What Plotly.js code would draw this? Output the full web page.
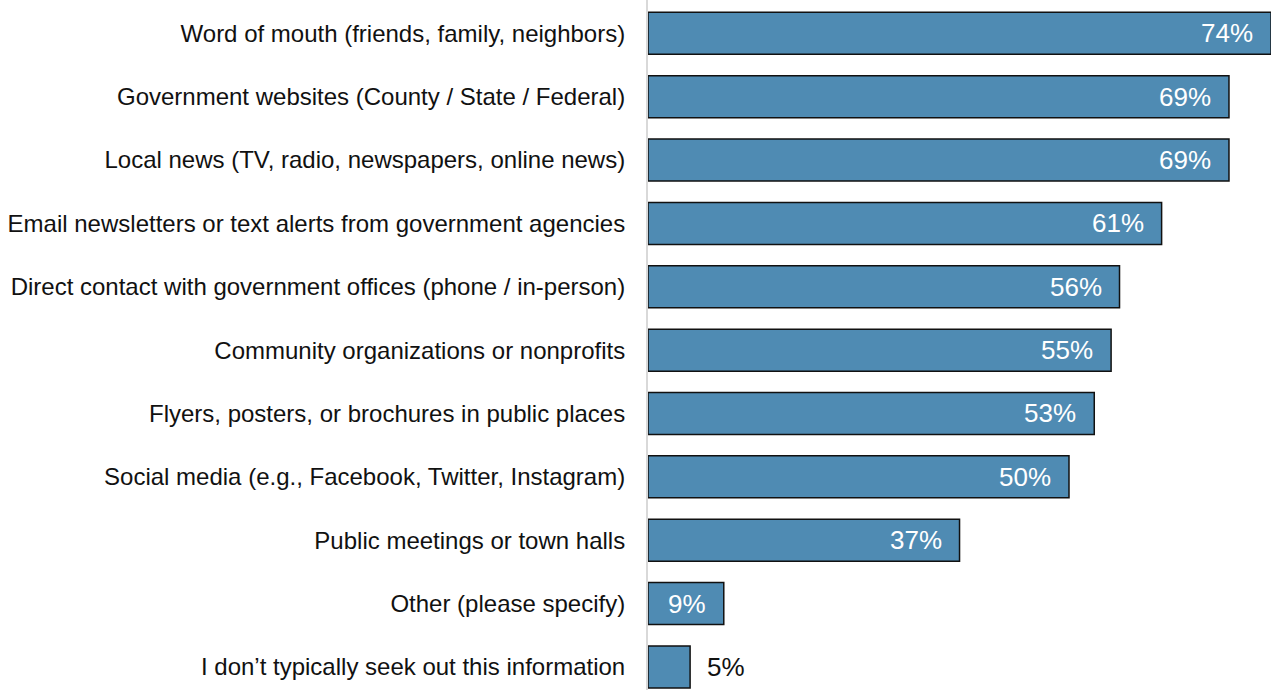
<!DOCTYPE html>
<html>
<head>
<meta charset="utf-8">
<script src="https://cdn.plot.ly/plotly-3.0.1.min.js"></script>
<style>
  html, body { margin: 0; padding: 0; overflow: hidden; background: #ffffff; }
  #chart { width: 1300px; height: 690px; }
</style>
</head>
<body>
<div id="chart"></div>
<script>
// Information sources people use, share of respondents (%)
const sources = [
  "Word of mouth (friends, family, neighbors)",
  "Government websites (County / State / Federal)",
  "Local news (TV, radio, newspapers, online news)",
  "Email newsletters or text alerts from government agencies",
  "Direct contact with government offices (phone / in-person)",
  "Community organizations or nonprofits",
  "Flyers, posters, or brochures in public places",
  "Social media (e.g., Facebook, Twitter, Instagram)",
  "Public meetings or town halls",
  "Other (please specify)",
  "I don\u2019t typically seek out this information"
];
const shares = [74, 69, 69, 61, 56, 55, 53, 50, 37, 9, 5];

const BAR_COLOR = "#4f8bb3";
const FONT = "Liberation Sans, Arial, Helvetica, sans-serif";

const trace = {
  type: "bar",
  orientation: "h",
  y: sources,
  x: shares,
  marker: { color: BAR_COLOR, line: { color: "#111111", width: 1.5 } },
  hoverinfo: "skip"
};

// Value labels: white inside the bar end, or black just past short bars
const labels = shares.map((v, i) => {
  const inside = v >= 8;
  return {
    x: v, y: sources[i], xref: "x", yref: "y",
    text: v + "%",
    showarrow: false,
    xanchor: inside ? "right" : "left",
    xshift: inside ? -16 : 15,
    font: { family: FONT, size: 26, color: inside ? "#ffffff" : "#111111" }
  };
});

const pxPerUnit = 8.42;
const plotLeft = 648;
const chartWidth = 1300;

const layout = {
  width: chartWidth,
  height: 690,
  margin: { l: plotLeft, r: 0, t: 0, b: 0, pad: 0 },
  paper_bgcolor: "#ffffff",
  plot_bgcolor: "#ffffff",
  showlegend: false,
  bargap: 0.337,
  font: { family: FONT, color: "#111111" },
  xaxis: {
    range: [0, (chartWidth - plotLeft) / pxPerUnit],
    showgrid: false, zeroline: false, showticklabels: false,
    showline: false, ticks: ""
  },
  yaxis: {
    type: "category",
    categoryorder: "array",
    categoryarray: sources,
    range: [10.364, -0.526],
    showgrid: false, zeroline: false,
    showline: true, linecolor: "#d9d9d9", linewidth: 2,
    ticks: "outside", ticklen: 16, tickcolor: "rgba(0,0,0,0)",
    tickfont: { family: FONT, size: 24, color: "#111111" }
  },
  annotations: labels
};

Plotly.newPlot("chart", [trace], layout, { displayModeBar: false, staticPlot: true });
</script>
</body>
</html>
